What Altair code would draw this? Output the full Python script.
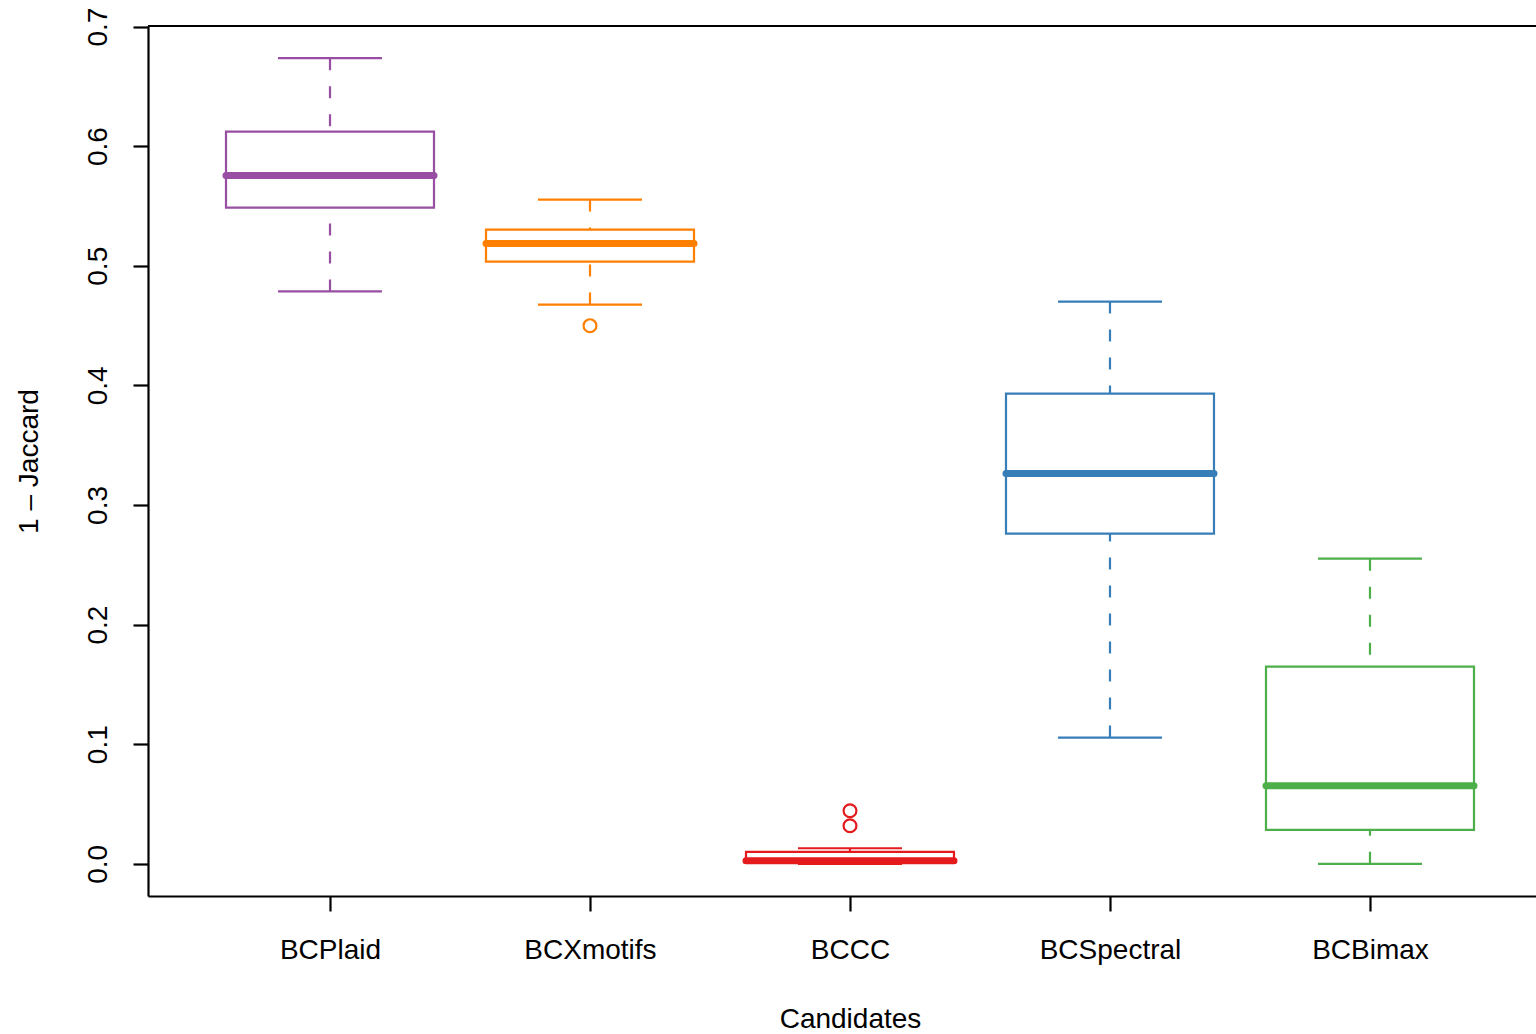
import json
import altair as alt
import pandas as pd

# ---- data ----
categories = ["BCPlaid", "BCXmotifs", "BCCC", "BCSpectral", "BCBimax"]
colors = ["#984EA3", "#FF7F00", "#E41A1C", "#377EB8", "#4DAF4A"]
lower_whisker = [0.4785, 0.4675, 0.0000, 0.1055, 0.0000]
q1 = [0.5486, 0.5035, 0.0022, 0.2760, 0.0284]
median = [0.5754, 0.5185, 0.0025, 0.3262, 0.0652]
q3 = [0.6122, 0.5302, 0.0099, 0.3931, 0.1648]
upper_whisker = [0.6735, 0.5553, 0.0130, 0.4700, 0.2551]
outlier_category = ["BCXmotifs", "BCCC", "BCCC"]
outlier_value = [0.4499, 0.0443, 0.0318]
y_ticks = [0.0, 0.1, 0.2, 0.3, 0.4, 0.5, 0.6, 0.7]

# ---- tables ----
pos = [i + 1 for i in range(len(categories))]
box_df = pd.DataFrame({
    "category": categories,
    "pos": pos,
    "left": [p - 0.4 for p in pos],
    "right": [p + 0.4 for p in pos],
    "cap_l": [p - 0.2 for p in pos],
    "cap_r": [p + 0.2 for p in pos],
    "lower": lower_whisker,
    "q1": q1,
    "median": median,
    "q3": q3,
    "upper": upper_whisker,
})
out_df = pd.DataFrame({
    "category": outlier_category,
    "pos": [categories.index(c) + 1 for c in outlier_category],
    "value": outlier_value,
})

W, H = 1388, 870
FONT = "Liberation Sans"
FS = 28
LW = 2.2

xs = alt.Scale(domain=[0.3, 5.6385], nice=False, zero=False)
ys = alt.Scale(domain=[-0.02694, 0.70044], nice=False, zero=False)
cscale = alt.Scale(domain=categories, range=colors)

label_expr = json.dumps(categories) + "[round(datum.value) - 1]"

x_axis = alt.Axis(
    values=pos, labelExpr=label_expr, title="Candidates", grid=False,
    domainColor="black", domainWidth=2.2, tickColor="black", tickWidth=2.2, tickSize=15,
    labelFont=FONT, labelFontSize=FS, labelColor="black", labelBaseline="alphabetic",
    labelPadding=47, labelFlush=False,
    titleFont=FONT, titleFontSize=FS, titleFontWeight="normal", titleColor="black",
    titleX=702, titleY=131, titleBaseline="alphabetic", titleAlign="center",
)
y_axis = alt.Axis(
    values=y_ticks, format=".1f", title="1 – Jaccard", grid=False,
    domainColor="black", domainWidth=2.2, tickColor="black", tickWidth=2.2, tickSize=15,
    labelFont=FONT, labelFontSize=FS, labelColor="black", labelAngle=270,
    labelAlign="center", labelBaseline="alphabetic", labelPadding=27, labelFlush=False,
    titleFont=FONT, titleFontSize=FS, titleFontWeight="normal", titleColor="black",
    titleAngle=270, titleX=-111, titleY=435, titleBaseline="alphabetic", titleAlign="center",
)


def X(field):
    return alt.X(field, scale=xs, axis=x_axis, title="Candidates")


def Y(field):
    return alt.Y(field, scale=ys, axis=y_axis, title="1 – Jaccard")


col = alt.Color("category:N", scale=cscale, legend=None)
base = alt.Chart(box_df)

whisk_up = base.mark_rule(strokeDash=[12, 16], strokeWidth=LW).encode(
    x=X("pos:Q"), y=Y("upper:Q"), y2="q3:Q", color=col,
)
whisk_lo = base.mark_rule(strokeDash=[12, 16], strokeWidth=LW).encode(
    x=X("pos:Q"), y=Y("lower:Q"), y2="q1:Q", color=col,
)
cap_up = base.mark_rule(strokeWidth=LW).encode(
    x=X("cap_l:Q"), x2="cap_r:Q", y=Y("upper:Q"), color=col,
)
cap_lo = base.mark_rule(strokeWidth=LW).encode(
    x=X("cap_l:Q"), x2="cap_r:Q", y=Y("lower:Q"), color=col,
)
box = base.mark_rect(fill="white", strokeWidth=LW).encode(
    x=X("left:Q"), x2="right:Q", y=Y("q1:Q"), y2="q3:Q",
    stroke=alt.Stroke("category:N", scale=cscale, legend=None),
)
med = base.mark_rule(strokeWidth=7, strokeCap="round").encode(
    x=X("left:Q"), x2="right:Q", y=Y("median:Q"), color=col,
)
outl = alt.Chart(out_df).mark_point(shape="circle", filled=False, size=165, strokeWidth=LW, opacity=1).encode(
    x=X("pos:Q"), y=Y("value:Q"), color=col,
)
top = alt.Chart(pd.DataFrame({"a": [0]})).mark_rule(color="black", strokeWidth=2.2).encode(
    x=alt.value(0), x2=alt.value(W), y=alt.value(0)
)

chart = alt.layer(whisk_up, whisk_lo, cap_up, cap_lo, box, med, outl, top).properties(
    width=W, height=H,
    autosize=alt.AutoSizeParams(type="none"),
    padding={"left": 148, "top": 26, "right": 0, "bottom": 138},
    background="white",
).configure_view(strokeWidth=0)

chart.save("out.html", embed_options={"renderer": "svg", "actions": False})
